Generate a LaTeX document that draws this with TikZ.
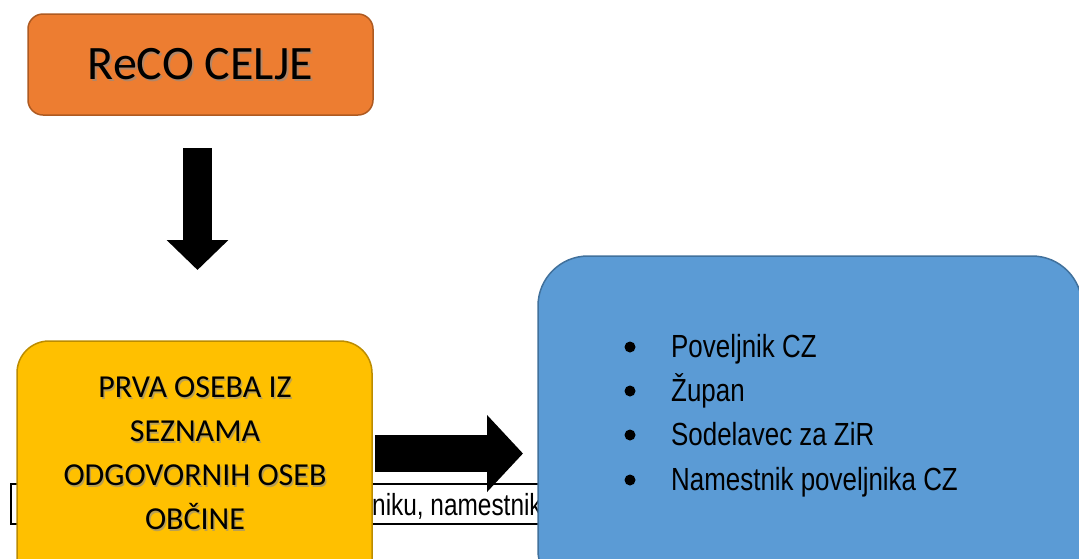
\documentclass[tikz,border=0pt]{standalone}
\usepackage{fontspec}
\setmainfont{Carlito}
\newfontfamily\arialf{Liberation Sans}
\usetikzlibrary{arrows.meta,calc}
\definecolor{orfill}{HTML}{ED7D31}
\definecolor{ordraw}{HTML}{AE5A21}
\definecolor{yefill}{HTML}{FFC000}
\definecolor{yedraw}{HTML}{BC8C00}
\definecolor{blfill}{HTML}{5B9BD5}
\definecolor{bldraw}{HTML}{41719C}
\begin{document}
\begin{tikzpicture}[x=1pt,y=-1pt,
  box/.style={rounded corners=#1, line width=1.5pt, inner sep=0pt, outer sep=0pt},
  shadowtxt/.style={text=black!45, opacity=0.6},
  bigfont/.style={font=\fontsize{48}{56}\selectfont},
  midfont/.style={font=\fontsize{32}{44}\selectfont, align=center},
  listfont/.style={font=\arialf\fontsize{32}{38}\selectfont, inner sep=0pt},
  stripfont/.style={font=\arialf\fontsize{30.5}{36}\selectfont, inner sep=0pt},
  bullet/.style={circle, fill=black, inner sep=0pt, minimum size=11pt}]
\useasboundingbox (0,0) rectangle (1079,558);
\clip (0,0) rectangle (1079,558);
\fill[white] (0,0) rectangle (1079,558);

% text strip behind the boxes
\node[draw=black, line width=1.5pt, minimum width=535pt, minimum height=40pt,
      inner sep=0pt, anchor=north west] (strip) at (10,483) {};
\node[stripfont, anchor=base west] (striptext) at (372,515) {\scalebox{0.8}[1]{niku, namestnik}};

% orange box
\node[box=15pt, draw=ordraw, fill=orfill, minimum width=345pt, minimum height=101pt] (reco) at (200.5,64.5) {};
\node[bigfont, shadowtxt] at ($(reco)+(2,2)$) {ReCO CELJE};
\node[bigfont] (recotext) at (reco) {ReCO CELJE};

% yellow box
\node[box=32pt, draw=yedraw, fill=yefill, minimum width=355pt, minimum height=259pt] (prva) at (194.5,470.5) {};
\node[midfont, shadowtxt] at (196.5,455.5) {PRVA OSEBA IZ\\SEZNAMA\\ODGOVORNIH OSEB\\OBČINE};
\node[midfont] (prvatext) at (195,453.5) {PRVA OSEBA IZ\\SEZNAMA\\ODGOVORNIH OSEB\\OBČINE};

% blue box
\node[box=50pt, draw=bldraw, fill=blfill, minimum width=544pt, minimum height=344pt] (blue) at (810,428) {};
\foreach \yy/\txt [count=\i] in {357/Poveljnik CZ, 401/Župan, 445/Sodelavec za ZiR, 490/Namestnik poveljnika CZ} {
  \node[bullet] (bul\i) at (630,\yy-10) {};
  \node[listfont, anchor=base west] (item\i) at (671,\yy) {\scalebox{0.81}[1]{\txt}};
}

% block arrows
\draw[line width=29pt, -{Triangle[length=30pt,width=60pt]}]
  ($(reco.south)+(-3,33)$) -- ($(prva.north)+(3,-71)$);
\draw[line width=37pt, -{Triangle[length=36pt,width=75pt]}]
  ($(prva.east)+(3,-17)$) -- ($(blue.west)+(-15,25.5)$);
\end{tikzpicture}
\end{document}
